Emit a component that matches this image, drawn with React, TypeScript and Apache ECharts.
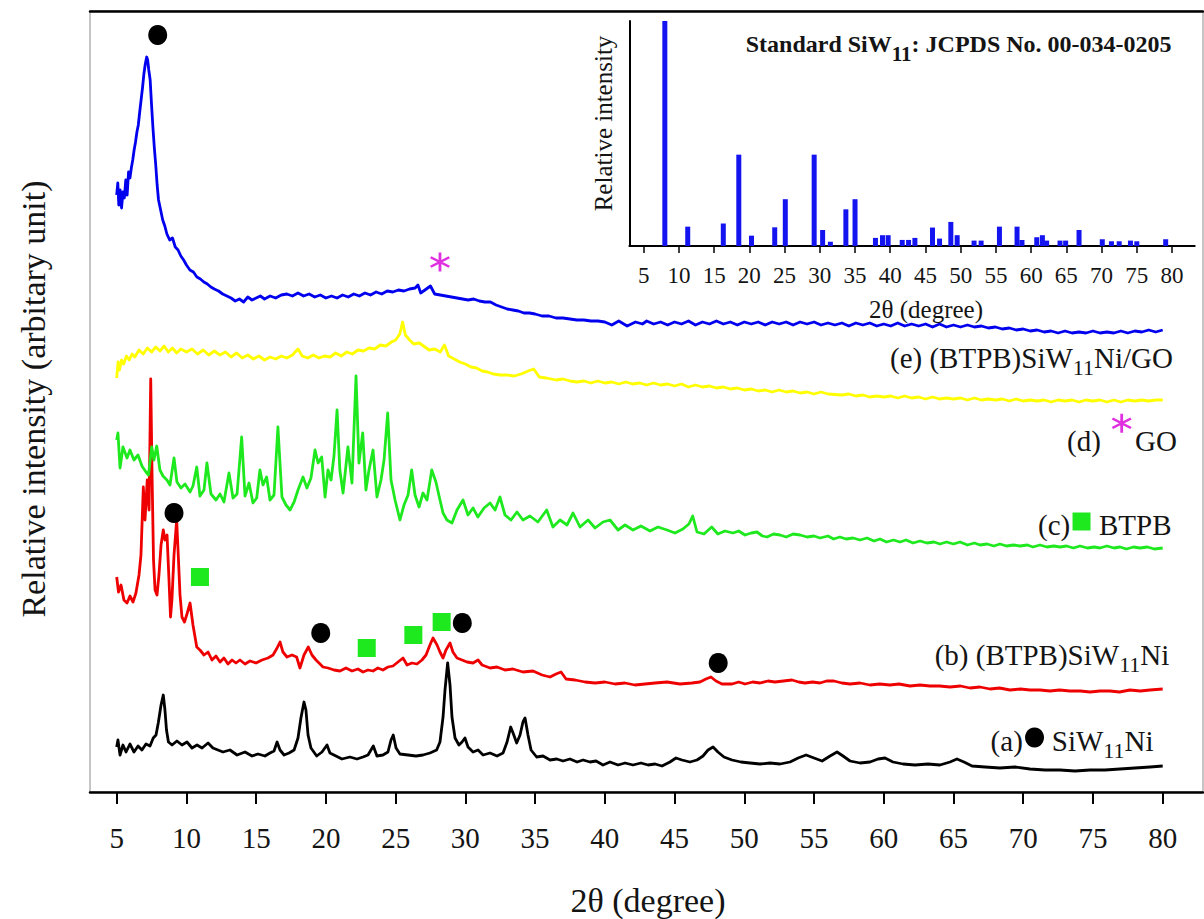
import React, { useEffect, useRef } from "react";
import * as echarts from "echarts";

const SERIF = "'Liberation Serif', 'Times New Roman', serif";

// Main x axis tick labels (2θ, degree)
const xTicks = [5, 10, 15, 20, 25, 30, 35, 40, 45, 50, 55, 60, 65, 70, 75, 80];

// XRD traces: [2θ, intensity (arbitrary, offset-stacked)]
const traceE_blue = [
  [5.0, 597], [5.08, 609], [5.15, 587], [5.25, 602], [5.35, 584], [5.45, 600], [5.55, 594], [5.65, 612], [5.75, 597], [5.85, 620],
  [5.95, 614], [6.05, 624], [6.15, 632], [6.25, 642], [6.35, 650], [6.45, 660], [6.55, 667], [6.65, 680], [6.75, 692], [6.85, 704],
  [6.95, 718], [7.05, 728], [7.15, 735], [7.22, 732], [7.3, 722], [7.4, 712], [7.5, 687], [7.6, 664], [7.7, 644], [7.8, 627],
  [7.9, 607], [8.0, 592], [8.15, 582], [8.3, 572], [8.45, 566], [8.6, 558], [8.8, 552], [9.0, 554], [9.2, 545], [9.4, 542],
  [9.6, 536], [9.8, 532], [10.0, 527], [10.25, 522], [10.5, 520], [10.75, 515], [11.0, 513], [11.25, 510], [11.5, 508], [11.75, 505],
  [12.0, 503], [12.3, 501], [12.6, 498], [12.9, 496], [13.2, 494], [13.5, 491], [13.8, 493], [14.1, 490], [14.4, 495], [14.7, 492],
  [15.0, 494], [15.3, 496], [15.6, 493], [16.0, 496], [16.4, 494], [16.8, 497], [17.2, 498], [17.6, 496], [18.0, 499], [18.4, 496],
  [18.8, 498], [19.2, 495], [19.6, 497], [20.0, 494], [20.4, 496], [20.8, 494], [21.2, 497], [21.6, 495], [22.0, 498], [22.4, 496],
  [22.8, 499], [23.2, 497], [23.6, 500], [24.0, 498], [24.4, 501], [24.8, 500], [25.2, 502], [25.6, 501], [26.0, 503], [26.4, 504],
  [26.6, 507], [26.8, 499], [27.1, 502], [27.5, 506], [27.8, 498], [28.2, 497], [28.6, 496], [29.0, 495], [29.4, 494], [29.8, 493],
  [30.2, 492], [30.6, 493], [31.0, 491], [31.4, 490], [31.8, 490], [32.2, 487], [32.6, 485], [33.0, 483], [33.4, 482], [33.8, 481],
  [34.2, 479], [34.6, 479], [35.0, 478], [35.5, 476], [36.0, 476], [36.5, 474], [37.0, 474], [37.5, 473], [38.0, 472], [38.5, 472],
  [39.0, 471], [39.5, 471], [40.0, 470], [40.5, 467], [41.0, 471], [41.6, 466], [42.2, 470], [42.7, 468], [43.0, 471], [43.5, 468],
  [44.0, 470], [44.5, 467], [45.0, 470], [45.5, 468], [46.0, 471], [46.5, 467], [47.0, 470], [47.5, 468], [48.0, 471], [48.5, 468],
  [49.0, 470], [49.5, 467], [50.0, 470], [50.5, 468], [51.0, 470], [51.5, 467], [52.0, 470], [52.5, 468], [53.0, 470], [53.5, 467],
  [54.0, 470], [54.5, 468], [55.0, 470], [55.5, 467], [56.0, 469], [56.5, 467], [57.0, 469], [57.5, 466], [58.0, 469], [58.5, 467],
  [59.0, 469], [59.5, 466], [60.0, 468], [60.5, 466], [61.0, 469], [61.5, 466], [62.0, 468], [62.5, 466], [63.0, 468], [63.5, 465],
  [64.0, 468], [64.5, 465], [65.0, 467], [65.5, 465], [66.0, 467], [66.5, 465], [67.0, 466], [67.5, 464], [68.0, 465], [68.5, 463],
  [69.0, 464], [69.5, 462], [70.0, 463], [70.5, 461], [71.0, 462], [71.5, 460], [72.0, 461], [72.5, 459], [73.0, 461], [73.5, 459],
  [74.0, 460], [74.5, 459], [75.0, 461], [75.5, 459], [76.0, 460], [76.5, 459], [77.0, 461], [77.5, 459], [78.0, 461], [78.5, 460],
  [79.0, 462], [79.5, 460], [80.0, 462],
];

const traceD_yellow = [
  [5.0, 414], [5.1, 430], [5.2, 422], [5.35, 432], [5.5, 428], [5.7, 436], [5.9, 432], [6.1, 438], [6.3, 435], [6.6, 442],
  [6.9, 438], [7.2, 444], [7.5, 440], [7.8, 445], [8.1, 441], [8.4, 446], [8.7, 440], [9.0, 444], [9.3, 439], [9.6, 443],
  [10.0, 440], [10.4, 443], [10.8, 438], [11.2, 442], [11.6, 437], [12.0, 441], [12.4, 437], [12.8, 440], [13.2, 435], [13.6, 439],
  [14.0, 434], [14.4, 437], [14.8, 433], [15.2, 436], [15.6, 432], [16.0, 435], [16.4, 433], [16.8, 436], [17.2, 434], [17.6, 437],
  [18.0, 443], [18.3, 436], [18.7, 434], [19.1, 437], [19.5, 434], [19.9, 436], [20.3, 435], [20.7, 439], [21.1, 436], [21.5, 440],
  [21.9, 438], [22.3, 442], [22.7, 441], [23.1, 444], [23.5, 443], [23.9, 447], [24.3, 446], [24.7, 450], [25.0, 452], [25.3, 458],
  [25.5, 470], [25.7, 457], [26.0, 452], [26.3, 448], [26.7, 449], [27.0, 446], [27.4, 442], [27.8, 443], [28.2, 440], [28.5, 447],
  [28.8, 436], [29.2, 433], [29.6, 430], [30.0, 428], [30.4, 425], [30.8, 424], [31.2, 421], [31.6, 420], [32.0, 418], [32.5, 417],
  [33.0, 417], [33.5, 416], [34.0, 418], [34.5, 421], [34.9, 423], [35.3, 415], [35.8, 414], [36.5, 412], [37.0, 413], [37.5, 411],
  [38.0, 410], [38.5, 411], [39.0, 409], [39.5, 411], [40.0, 409], [40.5, 410], [41.0, 408], [41.5, 410], [42.0, 408], [42.5, 409],
  [43.0, 407], [43.5, 409], [44.0, 407], [44.5, 408], [45.0, 406], [45.5, 408], [46.0, 405], [46.5, 407], [47.0, 405], [47.5, 406],
  [48.0, 404], [48.5, 405], [49.0, 403], [49.5, 404], [50.0, 402], [50.5, 403], [51.0, 401], [51.5, 402], [52.0, 400], [52.5, 402],
  [53.0, 400], [53.5, 401], [54.0, 399], [54.5, 400], [55.0, 398], [55.5, 400], [56.0, 398], [57.0, 397], [57.5, 398], [58.0, 396],
  [58.5, 397], [59.0, 395], [59.5, 396], [60.0, 395], [60.5, 396], [61.0, 394], [61.5, 396], [62.0, 394], [62.5, 395], [63.0, 393],
  [63.5, 395], [64.0, 393], [64.5, 394], [65.0, 393], [65.5, 394], [66.0, 392], [66.5, 394], [67.0, 392], [67.5, 393], [68.0, 392],
  [68.5, 393], [69.0, 391], [69.5, 393], [70.0, 391], [70.5, 392], [71.0, 391], [71.5, 392], [72.0, 390], [72.5, 392], [73.0, 391],
  [73.5, 392], [74.0, 390], [74.5, 392], [75.0, 391], [75.5, 392], [76.0, 390], [76.5, 392], [77.0, 390], [77.5, 392], [78.0, 391],
  [78.5, 392], [79.0, 391], [79.5, 392], [80.0, 392],
];

const traceC_green = [
  [5.0, 352], [5.09, 359], [5.24, 324], [5.45, 345], [5.74, 334], [5.95, 342], [6.24, 332], [6.53, 337], [6.81, 326], [7.1, 320],
  [7.28, 317], [7.51, 345], [7.67, 332], [7.87, 346], [8.1, 322], [8.32, 316], [8.6, 312], [8.82, 307], [9.11, 334], [9.32, 310],
  [9.61, 304], [9.9, 308], [10.26, 300], [10.47, 306], [10.74, 325], [10.97, 296], [11.26, 302], [11.47, 329], [11.76, 298], [12.12, 292],
  [12.41, 298], [12.69, 290], [13.05, 319], [13.34, 294], [13.63, 298], [13.96, 355], [14.2, 296], [14.49, 309], [14.77, 289], [15.04, 294],
  [15.27, 322], [15.49, 307], [15.75, 315], [15.99, 292], [16.28, 297], [16.56, 365], [16.85, 295], [17.14, 287], [17.43, 282], [17.72, 290],
  [18.0, 302], [18.36, 315], [18.64, 304], [18.93, 314], [19.22, 342], [19.44, 329], [19.7, 335], [19.94, 295], [20.15, 322], [20.37, 312],
  [20.58, 336], [20.8, 382], [21.0, 322], [21.23, 299], [21.58, 345], [21.87, 309], [22.16, 416], [22.37, 329], [22.64, 359], [22.87, 302],
  [23.09, 322], [23.38, 342], [23.66, 295], [23.95, 312], [24.17, 332], [24.43, 379], [24.67, 312], [24.96, 292], [25.31, 272], [25.6, 287],
  [25.89, 297], [26.15, 322], [26.39, 297], [26.68, 285], [26.96, 299], [27.25, 292], [27.59, 322], [27.89, 310], [28.18, 292], [28.4, 279],
  [28.68, 272], [29.04, 269], [29.4, 282], [29.83, 292], [30.19, 277], [30.55, 284], [30.9, 275], [31.34, 284], [31.77, 289], [32.13, 282],
  [32.48, 295], [32.84, 277], [33.27, 272], [33.7, 280], [34.13, 272], [34.63, 276], [35.2, 270], [35.83, 282], [36.28, 265], [36.79, 272],
  [37.29, 267], [37.72, 279], [38.22, 265], [38.8, 272], [39.3, 264], [39.87, 270], [40.37, 272], [40.95, 262], [41.45, 267], [42.02, 262],
  [42.59, 266], [43.24, 261], [43.81, 265], [44.46, 262], [45.03, 259], [45.6, 263], [46.03, 268], [46.3, 276], [46.61, 260], [47.11, 258],
  [47.66, 265], [48.11, 258], [48.61, 261], [49.19, 259], [49.6, 261], [50.05, 257], [50.5, 259], [50.91, 260], [51.3, 256], [51.63, 255],
  [52.1, 258], [52.56, 257], [53.0, 255], [53.5, 258], [54.0, 257], [54.5, 255], [55.0, 256], [55.43, 254], [56.0, 256], [56.4, 253],
  [56.86, 255], [57.3, 253], [57.8, 254], [58.3, 252], [58.8, 254], [59.3, 251], [59.73, 253], [60.2, 250], [60.7, 252], [61.16, 250],
  [61.6, 252], [62.1, 249], [62.6, 251], [63.1, 249], [63.6, 250], [64.03, 248], [64.5, 250], [65.0, 248], [65.47, 250], [66.0, 247],
  [66.5, 249], [66.9, 247], [67.4, 248], [67.9, 246], [68.33, 248], [68.8, 246], [69.3, 247], [69.77, 246], [70.3, 247], [70.7, 245],
  [71.2, 247], [71.7, 245], [72.2, 246], [72.64, 245], [73.1, 246], [73.6, 244], [74.07, 246], [74.6, 244], [75.1, 245], [75.5, 244],
  [76.0, 246], [76.5, 244], [76.94, 245], [77.4, 243], [77.9, 245], [78.37, 244], [78.9, 245], [79.4, 243], [80.0, 244],
];

const traceB_red = [
  [5.0, 215], [5.13, 200], [5.31, 207], [5.52, 192], [5.74, 189], [5.95, 196], [6.17, 190], [6.38, 199], [6.6, 217], [6.74, 237],
  [6.91, 305], [7.03, 272], [7.19, 312], [7.32, 282], [7.44, 413], [7.53, 322], [7.64, 232], [7.75, 202], [7.89, 197], [8.03, 217],
  [8.18, 247], [8.34, 262], [8.46, 252], [8.61, 257], [8.75, 212], [8.86, 175], [8.96, 192], [9.11, 237], [9.3, 272], [9.43, 232],
  [9.54, 197], [9.68, 175], [9.86, 170], [10.04, 178], [10.26, 189], [10.47, 167], [10.74, 145], [10.97, 142], [11.26, 137], [11.55, 140],
  [11.83, 132], [12.12, 136], [12.41, 130], [12.69, 134], [12.98, 128], [13.27, 132], [13.55, 129], [13.84, 132], [14.2, 128], [14.56, 131],
  [14.99, 129], [15.42, 132], [15.85, 134], [16.21, 137], [16.5, 144], [16.71, 150], [16.92, 140], [17.21, 135], [17.57, 137], [17.9, 135],
  [18.14, 124], [18.43, 137], [18.74, 145], [19.0, 137], [19.29, 132], [19.58, 128], [19.79, 125], [20.15, 124], [20.58, 122], [21.01, 121],
  [21.44, 124], [21.87, 121], [22.3, 123], [22.66, 120], [23.02, 122], [23.38, 121], [23.73, 124], [24.09, 122], [24.45, 125], [24.81, 126],
  [25.17, 130], [25.53, 134], [25.82, 127], [26.17, 129], [26.53, 128], [26.89, 132], [27.18, 137], [27.46, 147], [27.68, 154], [27.97, 147],
  [28.18, 140], [28.4, 134], [28.61, 142], [28.9, 149], [29.11, 140], [29.4, 134], [29.76, 132], [30.12, 130], [30.55, 129], [30.91, 132],
  [31.2, 127], [31.77, 124], [32.27, 125], [32.84, 122], [33.41, 123], [34.13, 120], [34.85, 121], [35.5, 117], [36.07, 115], [36.5, 118],
  [36.86, 120], [37.22, 113], [37.87, 112], [38.58, 110], [39.3, 109], [40.01, 110], [40.73, 108], [41.45, 109], [42.16, 107], [42.88, 108],
  [43.6, 109], [44.46, 110], [45.39, 108], [46.25, 109], [46.82, 110], [47.25, 113], [47.61, 115], [47.97, 111], [48.4, 108], [49.12, 108],
  [49.6, 110], [50.05, 108], [50.6, 110], [51.13, 109], [51.7, 111], [52.2, 110], [52.8, 111], [53.42, 112], [53.9, 110], [54.35, 109],
  [54.9, 110], [55.43, 109], [55.9, 111], [56.43, 111], [57.0, 109], [57.58, 108], [58.3, 109], [59.01, 107], [59.7, 108], [60.44, 107],
  [61.1, 108], [61.88, 106], [62.6, 107], [63.31, 106], [64.0, 106], [64.75, 105], [65.5, 106], [66.18, 104], [66.9, 105], [67.62, 103],
  [68.3, 104], [69.05, 102], [69.8, 103], [70.48, 102], [71.2, 102], [71.92, 101], [72.6, 102], [73.35, 101], [74.1, 101], [74.79, 100],
  [75.5, 101], [76.22, 101], [76.9, 100], [77.65, 102], [78.4, 101], [79.09, 102], [80.0, 103],
];

const traceA_black = [
  [5.0, 45], [5.09, 52], [5.24, 37], [5.45, 47], [5.67, 40], [5.95, 48], [6.24, 40], [6.53, 46], [6.81, 42], [7.1, 48],
  [7.39, 46], [7.62, 54], [7.82, 57], [7.98, 69], [8.18, 87], [8.34, 97], [8.46, 82], [8.57, 62], [8.71, 50], [8.97, 47],
  [9.32, 51], [9.68, 47], [10.04, 50], [10.4, 44], [10.76, 47], [11.12, 44], [11.55, 49], [11.9, 44], [12.26, 42], [12.62, 40],
  [13.12, 42], [13.63, 37], [14.2, 40], [14.7, 36], [15.13, 38], [15.63, 36], [15.99, 39], [16.28, 41], [16.5, 50], [16.71, 42],
  [17.0, 37], [17.36, 39], [17.72, 42], [18.0, 54], [18.21, 74], [18.43, 90], [18.57, 82], [18.72, 57], [18.93, 44], [19.34, 36],
  [19.72, 40], [20.08, 47], [20.29, 39], [20.72, 36], [21.15, 33], [21.72, 35], [22.23, 33], [22.66, 35], [23.02, 37], [23.4, 46],
  [23.66, 36], [24.09, 37], [24.45, 40], [24.67, 52], [24.83, 57], [25.03, 44], [25.31, 38], [25.89, 37], [26.46, 36], [26.96, 37],
  [27.46, 39], [27.94, 42], [28.18, 50], [28.4, 75], [28.54, 102], [28.73, 129], [28.9, 107], [29.04, 75], [29.26, 54], [29.54, 47],
  [29.76, 50], [29.97, 54], [30.19, 45], [30.55, 40], [30.91, 42], [31.27, 37], [31.77, 39], [32.27, 36], [32.7, 39], [32.99, 50],
  [33.25, 65], [33.42, 59], [33.68, 49], [33.92, 57], [34.13, 70], [34.28, 74], [34.49, 57], [34.71, 42], [35.11, 35], [35.57, 36],
  [36.07, 32], [36.55, 33], [37.0, 31], [37.5, 33], [38.01, 30], [38.44, 32], [38.94, 30], [39.37, 31], [39.87, 27], [40.37, 30],
  [40.95, 27], [41.45, 29], [42.02, 27], [42.59, 29], [43.1, 27], [43.6, 28], [44.1, 26], [44.67, 30], [45.1, 34], [45.53, 32],
  [46.1, 30], [46.61, 32], [47.04, 36], [47.4, 42], [47.76, 45], [48.11, 40], [48.54, 35], [49.12, 32], [49.76, 30], [50.41, 29],
  [51.13, 28], [51.84, 29], [52.56, 28], [53.28, 30], [53.86, 34], [54.43, 37], [55.0, 34], [55.58, 31], [56.15, 36], [56.65, 40],
  [57.08, 36], [57.58, 31], [58.3, 29], [59.01, 30], [59.59, 33], [60.09, 34], [60.66, 30], [61.38, 28], [62.24, 27], [63.17, 28],
  [64.03, 27], [64.75, 30], [65.25, 33], [65.75, 30], [66.33, 26], [67.26, 25], [68.33, 24], [69.41, 25], [70.48, 23], [71.56, 22],
  [72.64, 22], [73.71, 21], [74.79, 22], [75.86, 22], [76.94, 23], [78.01, 24], [79.09, 25], [80.0, 26],
];

// Phase markers placed on the traces and in the labels: [2θ, intensity]
const siw11Dots = [[7.94, 757], [9.11, 279], [19.63, 159], [29.78, 169], [48.13, 129], [70.81, 54.5]];
const btpbSquares = [[10.97, 215], [22.93, 144], [26.27, 157], [28.3, 170], [74.18, 270.5]];
const goStars = [[28.18, 530], [77.06, 368.7]];

// Inset: standard SiW11 pattern (JCPDS 00-034-0205)
const stdTwoTheta = [8.0, 11.25, 16.3, 18.5, 20.3, 23.6, 25.1, 29.2, 30.4, 31.5, 33.7, 35.0, 37.9, 38.9, 39.7, 41.7, 42.6, 43.5, 46.0, 47.0, 48.6, 49.5, 51.9, 52.9, 55.5, 58.0, 58.7, 60.8, 61.6, 62.2, 64.1, 64.9, 66.8, 70.1, 71.4, 72.5, 74.1, 75.0, 79.1];
const stdIntensity = [100, 8.6, 10, 40.6, 4.6, 8.3, 20.8, 40.6, 7.1, 1.9, 16.3, 20.8, 3.6, 4.8, 4.8, 2.7, 2.7, 3.6, 8.2, 3.3, 10.7, 4.8, 2.4, 2.4, 8.6, 8.6, 2.7, 3.9, 4.8, 2.4, 2.4, 2.4, 7.1, 3, 2.1, 2.1, 2.4, 2.1, 3];

const STAR_PATH =
  "path://M-1.3,-10L1.3,-10L1.3,10L-1.3,10ZM8.01,-6.13L9.31,-3.87L-8.01,6.13L-9.31,3.87ZM-9.31,-3.87L-8.01,-6.13L9.31,3.87L8.01,6.13Z";

const TEXT = "#141414";

function subText(x: number, y: number, text: string, size: number, subSize: number, pad: number, bold = false) {
  return {
    type: "text",
    x,
    y,
    z: 50,
    style: {
      text,
      fontFamily: SERIF,
      fontSize: size,
      fontWeight: bold ? "bold" : "normal",
      fill: TEXT,
      align: "left",
      verticalAlign: "middle",
      rich: {
        s: {
          fontFamily: SERIF,
          fontSize: subSize,
          fontWeight: bold ? "bold" : "normal",
          fill: TEXT,
          padding: [pad, 0, 0, 0],
        },
      },
    },
  };
}

function plainText(x: number, y: number, text: string, size: number, rotation = 0, align = "left") {
  return {
    type: "text",
    x,
    y,
    rotation,
    z: 50,
    style: { text, fontFamily: SERIF, fontSize: size, fill: TEXT, align, verticalAlign: "middle" },
  };
}

export default function App() {
  const ref = useRef<HTMLDivElement>(null);

  useEffect(() => {
    if (!ref.current) return;
    const chart = echarts.init(ref.current, null, { renderer: "svg" });

    const line = (name: string, data: number[][], color: string) => ({
      type: "line",
      name,
      data,
      xAxisIndex: 0,
      yAxisIndex: 0,
      showSymbol: false,
      symbol: "none",
      silent: true,
      z: 2,
      lineStyle: { color, width: 2.8, join: "round" },
      itemStyle: { color },
    });

    const marker = (name: string, data: number[][], symbol: string, size: any, color: string) => ({
      type: "scatter",
      name,
      xAxisIndex: 0,
      yAxisIndex: 0,
      data,
      symbol,
      symbolSize: size,
      itemStyle: { color, opacity: 1 },
      silent: true,
      z: 5,
    });

    const option = {
      animation: false,
      backgroundColor: "#ffffff",
      grid: [
        { left: 90, right: 1, top: 11, bottom: 127, show: true, borderColor: "#8a8a8a", borderWidth: 1, backgroundColor: "transparent" },
        { left: 629.4, right: 9.3, top: 21, bottom: 673, show: false },
      ],
      xAxis: [
        {
          type: "value",
          gridIndex: 0,
          min: 3.086,
          max: 82.89,
          axisLine: { show: true, onZero: false, lineStyle: { color: "#000", width: 2.5 } },
          axisTick: { show: true, customValues: xTicks, length: 12, lineStyle: { color: "#000", width: 2 } },
          axisLabel: { show: true, customValues: xTicks, margin: 31, fontFamily: SERIF, fontSize: 29, color: TEXT },
          splitLine: { show: false },
        },
        {
          type: "value",
          gridIndex: 0,
          position: "top",
          min: 3.086,
          max: 82.89,
          axisLine: { show: true, onZero: false, lineStyle: { color: "#000", width: 2.5 } },
          axisTick: { show: false },
          axisLabel: { show: false },
          splitLine: { show: false },
        },
        {
          type: "value",
          gridIndex: 1,
          min: 2.97,
          max: 83.22,
          axisLine: { show: true, onZero: false, lineStyle: { color: "#000", width: 2 } },
          axisTick: { show: true, customValues: xTicks, length: 7, lineStyle: { color: "#000", width: 1.5 } },
          axisLabel: { show: true, customValues: xTicks, margin: 18, fontFamily: SERIF, fontSize: 23, color: TEXT },
          splitLine: { show: false },
        },
      ],
      yAxis: [
        { type: "value", gridIndex: 0, min: 0, max: 781, show: false },
        {
          type: "value",
          gridIndex: 1,
          min: 0,
          max: 100,
          axisLine: { show: true, lineStyle: { color: "#000", width: 2 } },
          axisTick: { show: false },
          axisLabel: { show: false },
          splitLine: { show: false },
        },
      ],
      series: [
        line("(a) SiW11Ni", traceA_black, "#000000"),
        line("(b) (BTPB)SiW11Ni", traceB_red, "#ee0000"),
        line("(c) BTPB", traceC_green, "#1ee81e"),
        line("(d) GO", traceD_yellow, "#ffff00"),
        line("(e) (BTPB)SiW11Ni/GO", traceE_blue, "#0000ee"),
        marker("SiW11 markers", siw11Dots, "circle", [19, 20], "#000000"),
        marker("BTPB markers", btpbSquares, "rect", 18, "#1ee81e"),
        marker("GO markers", goStars, STAR_PATH, [20, 19], "#e030e0"),
        {
          type: "bar",
          name: "Standard SiW11",
          xAxisIndex: 2,
          yAxisIndex: 1,
          data: stdTwoTheta.map((t, i) => [t, stdIntensity[i]]),
          barWidth: 5,
          itemStyle: { color: "#1414f0" },
          silent: true,
          z: 3,
        },
      ],
      graphic: {
        elements: [
          plainText(33, 399, "Relative intensity (arbitary unit)", 34, Math.PI / 2, "center"),
          plainText(648, 900, "2θ (degree)", 34, 0, "center"),
          plainText(603, 123.5, "Relative intensity", 25, Math.PI / 2, "center"),
          plainText(926, 309, "2θ (degree)", 25, 0, "center"),
          subText(745.7, 43.5, "Standard SiW{s|11}: JCPDS No. 00-034-0205", 24, 21, 20, true),
          subText(890, 358, "(e) (BTPB)SiW{s|11}Ni/GO", 29, 22, 18),
          plainText(1067, 441, "(d)", 29),
          plainText(1135, 441, "GO", 29),
          plainText(1038, 525, "(c)", 29),
          plainText(1099, 525, "BTPB", 29),
          subText(934.7, 655, "(b) (BTPB)SiW{s|11}Ni", 29, 22, 18),
          plainText(990.6, 741, "(a)", 29),
          subText(1051.8, 741, "SiW{s|11}Ni", 29, 22, 18),
        ],
      },
    };

    chart.setOption(option as any);
    return () => chart.dispose();
  }, []);

  return (
    <div
      ref={ref}
      style={{ position: "absolute", left: 0, top: 0, width: 1204, height: 919, background: "#fff" }}
    />
  );
}
